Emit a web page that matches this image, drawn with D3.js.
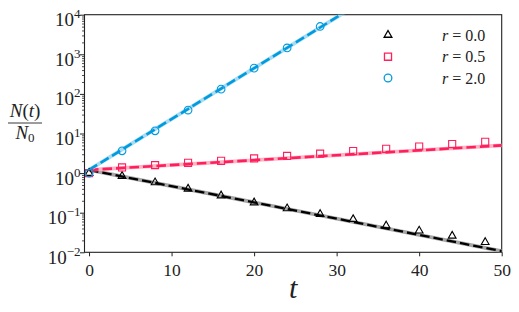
<!DOCTYPE html>
<html><head><meta charset="utf-8">
<script src="https://cdn.jsdelivr.net/npm/d3@7"></script>
<style>body{margin:0;background:#fff} svg{display:block} svg text{font-family:"Liberation Serif","DejaVu Serif",serif}</style>
</head><body><svg id="c" width="519" height="312"></svg>
<script>
// ---- data ----
const times = [0,4,8,12,16,20,24,28,32,36,40,44,48];
const rValues = ["0.0","0.5","2.0"];
const valuesR0  = [1.0,0.84,0.58,0.40,0.27,0.18,0.128,0.092,0.068,0.047,0.035,0.026,0.018];
const valuesR05 = [1.0,1.39,1.59,1.82,2.04,2.35,2.72,3.1,3.6,4.1,4.7,5.4,6.2];
const valuesR2  = [1.0,3.66,11.7,39,132,447,1450,5040];
const fitT   = [0,50];
const fitR0  = [1.2,0.0107];
const fitR05 = [1.2,5.0];
const fitR2  = [1.2,3.2e6];
const xTicks = [0,10,20,30,40,50];
const yTickExps = [-2,-1,0,1,2,3,4];

const colors = ["#000000","#ff1f5b","#009ade"];
const lightColors = ["#a6a6a6","#ffb1c6","#a6dcf3"];
const markers = ["triangle","square","circle"];
const seriesVals = [valuesR0, valuesR05, valuesR2];
const fits = [fitR0, fitR05, fitR2];

const L=84.5, R=501.7, T=14.7, B=252.3;
const svg = d3.select("#c");
const x = d3.scaleLinear().domain([-0.55,50]).range([L,R]);
const y = d3.scaleLog().domain([1e-2,1e4]).range([B,T]);

svg.append("clipPath").attr("id","clip").append("rect")
  .attr("x",L).attr("y",T).attr("width",R-L).attr("height",B-T);

// x axis
const gx = svg.append("g").attr("transform",`translate(0,${B})`)
  .call(d3.axisBottom(x).tickValues(xTicks).tickSize(4).tickPadding(7).tickFormat(d3.format("d")));
gx.attr("font-family",null).attr("font-size",null);
gx.select(".domain").remove();
gx.selectAll("line").attr("stroke","#222").attr("stroke-width",1);
gx.selectAll("text").style("font-size","17.5px").attr("fill","#222");

// y axis major
const gy = svg.append("g").attr("transform",`translate(${L},0)`)
  .call(d3.axisLeft(y).tickValues(yTickExps.map(e=>Math.pow(10,e))).tickSize(4.5).tickFormat(""));
gy.select(".domain").remove();
gy.selectAll("line").attr("stroke","#222").attr("stroke-width",1);
// y axis minor
const minor=[];
for(let e=-2;e<4;e++) for(let k=2;k<10;k++) minor.push(k*Math.pow(10,e));
const gym = svg.append("g").attr("transform",`translate(${L},0)`)
  .call(d3.axisLeft(y).tickValues(minor).tickSize(2.5).tickFormat(""));
gym.select(".domain").remove();
gym.selectAll("line").attr("stroke","#222").attr("stroke-width",0.8);

// y tick labels
yTickExps.forEach(e=>{
  const yy = y(Math.pow(10,e));
  const t = svg.append("text").attr("x",L-4).attr("y",yy+11.5)
    .attr("text-anchor","end").attr("fill","#222");
  t.append("tspan").style("font-size","19px").text("10");
  t.append("tspan").style("font-size","13px").attr("dy",-8).text(e<0?"\u2212"+(-e):String(e));
});

// spines
svg.append("rect").attr("x",L).attr("y",T).attr("width",R-L).attr("height",B-T)
  .attr("fill","none").attr("stroke","#222").attr("stroke-width",1.1);

// fit lines
const line = d3.line().x(d=>x(d[0])).y(d=>y(d[1]));
const gl = svg.append("g").attr("clip-path","url(#clip)");
fits.forEach((f,i)=>{
  const pts = fitT.map((t,j)=>[t,f[j]]);
  gl.append("path").attr("d",line(pts)).attr("fill","none")
    .attr("stroke",lightColors[i]).attr("stroke-width",3.8);
  gl.append("path").attr("d",line(pts)).attr("fill","none")
    .attr("stroke",colors[i]).attr("stroke-width",i===0?2.3:2.6)
    .attr("stroke-dasharray","9.5,4");
});

// markers
const symType = {triangle:d3.symbolTriangle, square:d3.symbolSquare, circle:d3.symbolCircle};
const symSize = {triangle:26, square:50, circle:46};
const gm = svg.append("g").attr("clip-path","url(#clip)");
seriesVals.forEach((vals,i)=>{
  vals.forEach((v,j)=>{
    const sym = d3.symbol().type(symType[markers[i]]).size(symSize[markers[i]]);
    gm.append("path").attr("d",sym())
      .attr("transform",`translate(${x(times[j])},${y(v)})`)
      .attr("fill","none").attr("stroke",colors[i]).attr("stroke-width",1.1);
  });
});

// legend
const legY = [35,56.7,78];
rValues.forEach((r,i)=>{
  const sym = d3.symbol().type(symType[markers[i]]).size(symSize[markers[i]]);
  svg.append("path").attr("d",sym()).attr("transform",`translate(388,${legY[i]})`)
    .attr("fill","none").attr("stroke",colors[i]).attr("stroke-width",1.3);
  const t = svg.append("text").attr("x",442).attr("y",legY[i]+5.5)
    .style("font-size","16px").attr("fill","#222");
  t.append("tspan").style("font-style","italic").text("r");
  t.append("tspan").text(" = "+r);
});

// x label
svg.append("text").attr("x",(L+R)/2).attr("y",298).attr("text-anchor","middle")
  .style("font-style","italic").style("font-size","30px").attr("fill","#222").text("t");

// y label (fraction)
const num = svg.append("text").attr("x",25).attr("y",117).attr("text-anchor","middle")
  .style("font-size","19px").attr("fill","#222");
num.append("tspan").style("font-style","italic").text("N");
num.append("tspan").text("(");
num.append("tspan").style("font-style","italic").text("t");
num.append("tspan").text(")");
svg.append("line").attr("x1",8).attr("x2",42).attr("y1",123).attr("y2",123)
  .attr("stroke","#222").attr("stroke-width",0.9);
const den = svg.append("text").attr("x",25).attr("y",139).attr("text-anchor","middle")
  .style("font-size","19px").attr("fill","#222");
den.append("tspan").style("font-style","italic").text("N");
den.append("tspan").style("font-size","13px").attr("dy",3).text("0");
</script></body></html>
